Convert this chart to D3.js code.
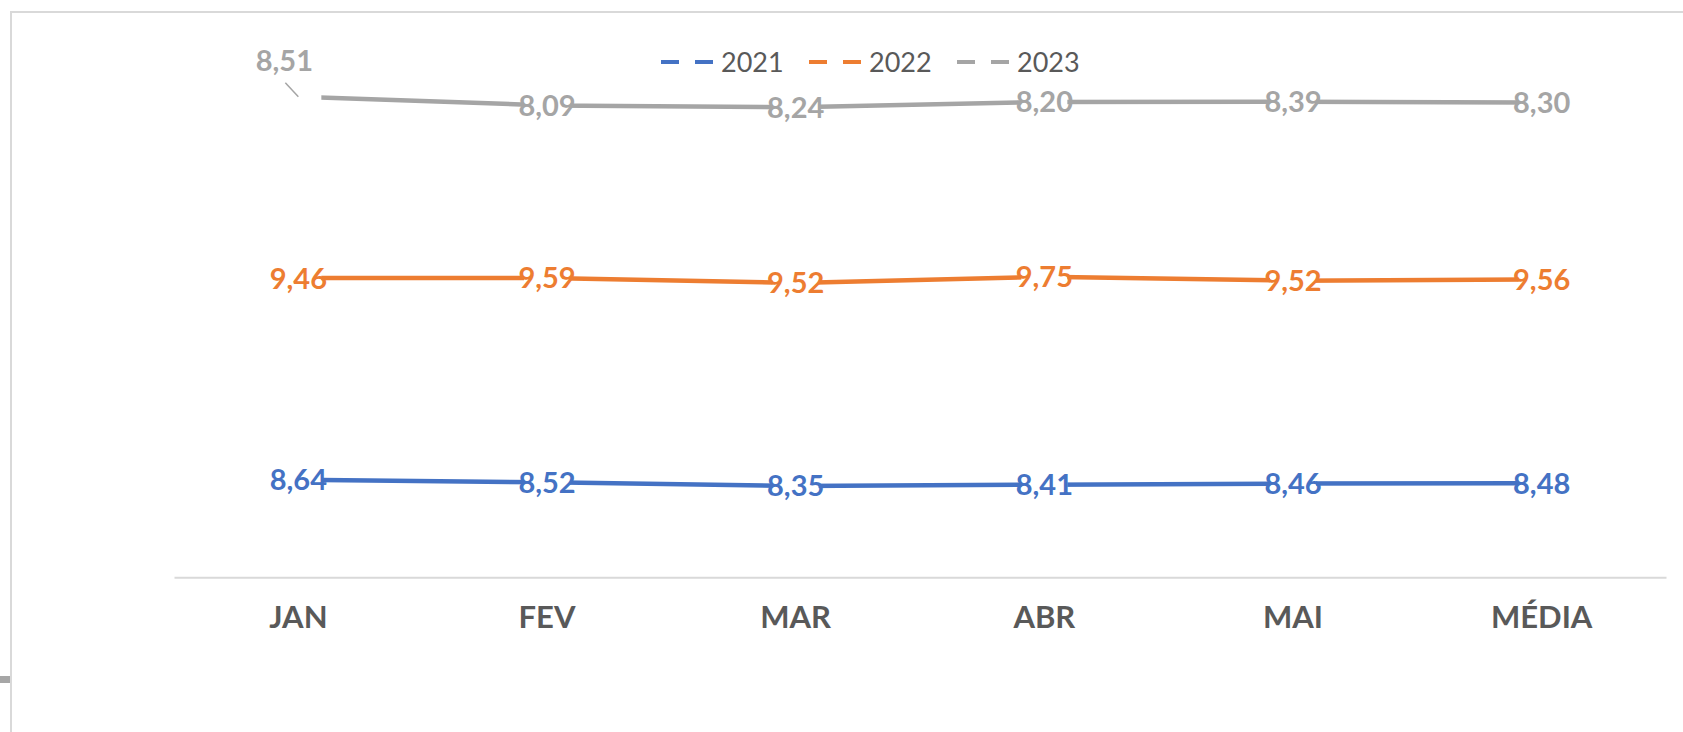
<!DOCTYPE html>
<html>
<head>
<meta charset="utf-8">
<script src="https://cdn.jsdelivr.net/npm/d3@7"></script>
</head>
<body style="margin:0; background:#ffffff;">
<svg id="chart" width="1683" height="732"></svg>
<script>
    'use strict';

    // months + average
    var categories = ["JAN", "FEV", "MAR", "ABR", "MAI", "MÉDIA"];
    var years = ["2021", "2022", "2023"];
    var values2021 = [8.64, 8.52, 8.35, 8.41, 8.46, 8.48];
    var values2022 = [9.46, 9.59, 9.52, 9.75, 9.52, 9.56];
    var values2023 = [8.51, 8.09, 8.24, 8.20, 8.39, 8.30];
    var colors = ["#4472C4", "#ED7D31", "#A5A5A5"];

    var W = 1683, H = 732;
    var svg = d3.select("#chart");
    var font = "Lato, 'Open Sans', sans-serif";

    // chart frame (cut off on right/bottom like the screenshot)
    svg.append("path")
        .attr("d", "M11," + H + " L11,12 L" + W + ",12")
        .attr("fill", "none")
        .attr("stroke", "#d9d9d9")
        .attr("stroke-width", 2);
    svg.append("rect").attr("x", 0).attr("y", 676).attr("width", 10).attr("height", 7).attr("fill", "#a6a6a6");

    var x = d3.scaleBand().domain(categories).range([174, 1666]);
    var y = d3.scaleLinear().domain([4, 30]).range([578.7, 24.4]);

    // stacked lines: each series sits on the ones before
    var series = [values2021, values2022, values2023];
    var stacked = [];
    var running = categories.map(function() { return 0; });
    series.forEach(function(vals, s) {
        running = running.map(function(r, i) { return r + vals[i]; });
        stacked.push(running.map(function(v, i) {
            return { cat: categories[i], value: vals[i], top: v };
        }));
    });

    // x axis line + labels
    var xAxis = d3.axisBottom(x).tickSize(0).tickPadding(29);
    var ax = svg.append("g").attr("transform", "translate(0," + (y(4) - 1.5) + ")").call(xAxis);
    ax.select(".domain").attr("stroke", "#d9d9d9").attr("stroke-width", 2);
    ax.selectAll("text")
        .attr("font-family", font)
        .attr("font-size", 31)
        .attr("font-weight", "bold")
        .attr("fill", "#595959")
        .attr("dy", "0.71em");

    var cx = function(d) { return x(d.cat) + x.bandwidth() / 2; };
    var line = d3.line().x(cx).y(function(d) { return y(d.top); });

    stacked.forEach(function(pts, s) {
        svg.append("path")
            .datum(pts)
            .attr("d", line)
            .attr("fill", "none")
            .attr("stroke", colors[s])
            .attr("stroke-width", 4.5)
            .attr("stroke-linejoin", "round");
    });

    // data labels
    var fmt = function(v) { return d3.format(".2f")(v).replace(".", ","); };
    stacked.forEach(function(pts, s) {
        var g = svg.append("g");
        pts.forEach(function(d, i) {
            var px = cx(d), py = y(d.top);
            var lx = px, ly = py;
            // the 2023 JAN label was dragged up-left in the original
            if (s === 2 && i === 0) { lx = px - 14; ly = py - 36; }
            g.append("rect")
                .attr("x", px - 23).attr("y", py - 12)
                .attr("width", 46).attr("height", 24)
                .attr("fill", "#ffffff");
            if (lx !== px) {
                g.append("line")
                    .attr("x1", px - 13).attr("y1", py - 14)
                    .attr("x2", px).attr("y2", py)
                    .attr("stroke", colors[s]).attr("stroke-width", 1.5);
            }
            g.append("text")
                .attr("x", lx).attr("y", ly)
                .attr("dy", "0.36em")
                .attr("text-anchor", "middle")
                .attr("font-family", font)
                .attr("font-size", 29)
                .attr("font-weight", "bold")
                .attr("fill", colors[s])
                .text(fmt(d.value));
        });
    });

    // legend
    var legend = svg.append("g").attr("transform", "translate(659,62)");
    years.forEach(function(yr, i) {
        var item = legend.append("g").attr("transform", "translate(" + (i * 148) + ",0)");
        item.append("line")
            .attr("x1", 2).attr("x2", 56).attr("y1", 0).attr("y2", 0)
            .attr("stroke", colors[i]).attr("stroke-width", 4)
            .attr("stroke-dasharray", "18,16");
        item.append("text")
            .attr("x", 62).attr("y", 0).attr("dy", "0.36em")
            .attr("font-family", font)
            .attr("font-size", 27)
            .attr("fill", "#595959")
            .text(yr);
    });
</script>
</body>
</html>
